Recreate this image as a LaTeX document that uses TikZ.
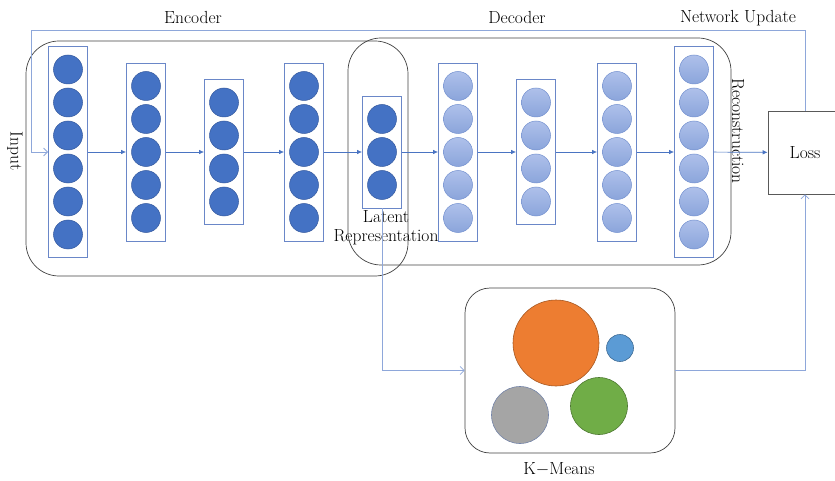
\documentclass[tikz,border=0pt]{standalone}
\usepackage{tikz}
\usetikzlibrary{arrows.meta, positioning}

\definecolor{encblue}{HTML}{4472C4}
\definecolor{encedge}{HTML}{34599E}
\definecolor{dectop}{HTML}{AEC0EA}
\definecolor{decbot}{HTML}{8BA5DB}
\definecolor{decedge}{HTML}{7390CF}
\definecolor{layerline}{HTML}{6A87C8}
\definecolor{arrowblue}{HTML}{4A74C2}
\definecolor{fbblue}{HTML}{8EA7DA}
\definecolor{kmorange}{HTML}{ED7D31}
\definecolor{kmblue}{HTML}{5B9BD5}
\definecolor{kmgray}{HTML}{A5A5A5}
\definecolor{kmgrayedge}{HTML}{7484A8}
\definecolor{kmgreen}{HTML}{70AD47}

\begin{document}
\begin{tikzpicture}[
  x=1pt, y=-1pt,
  lbl/.style={font=\fontsize{17.5}{19}\selectfont, inner sep=0pt},
  layer/.style={draw=layerline, line width=0.8pt, minimum width=39pt, inner sep=0pt},
  enc/.style={circle, fill=encblue, draw=encedge, line width=0.5pt,
              minimum size=29pt, inner sep=0pt},
  dec/.style={circle, top color=dectop, bottom color=decbot, draw=decedge,
              line width=0.5pt, minimum size=29pt, inner sep=0pt},
  group/.style={draw=black!75, line width=0.7pt, rounded corners=33pt},
  cluster/.style={circle, line width=0.6pt, inner sep=0pt},
  arr/.style={-{Latex[length=5pt,width=4.5pt]}, draw=arrowblue, line width=0.7pt},
  fb/.style={-{Straight Barb[length=4pt,width=8pt]}, draw=fbblue, line width=0.8pt},
]
\clip (0,0) rectangle (835,481);

% Layers of the autoencoder
\foreach \nm/\cx/\n/\st in {e1/68/6/enc, e2/146/5/enc, e3/224/4/enc, e4/304/5/enc,
    z/382/3/enc, d1/458/5/dec, d2/536/4/dec, d3/617/5/dec, d4/694/6/dec}{
  \node[layer, minimum height={33*\n+13}] (\nm) at (\cx,152) {};
  \foreach \k in {1,...,\n}
    \node[\st] (\nm-\k) at (\cx,{152+33*(\k-(\n+1)/2)}) {};
}

% Encoder / decoder outlines
\node[group, minimum width=382pt, minimum height=235pt] (encoder) at (217,158.5) {};
\node[group, minimum width=383pt, minimum height=227pt] (decoder) at (539.5,151.5) {};

% Labels
\node[lbl] (enclbl) at (193,18) {Encoder};
\node[lbl] (declbl) at (517,18) {Decoder};
\node[lbl] (updlbl) at (738,18) {Network Update};
\node[lbl, rotate=-90] (input) at (15,151) {Input};
\node[lbl, rotate=-90] (recon) at (738,131) {Reconstruction};
\node[lbl, align=center] (latent) at (386,228) {Latent\\Representation};

% Loss
\node[lbl, draw=black!65, line width=0.7pt, minimum width=74pt, minimum height=83pt]
  (loss) at (805,152.5) {Loss};

% K-Means
\node[draw=black!75, line width=0.7pt, rounded corners=25pt,
      minimum width=210pt, minimum height=165pt] (kmeans) at (570,370.5) {};
\node[cluster, fill=kmorange, draw=kmorange!70!black, minimum size=86pt] (c1) at (556,343) {};
\node[cluster, fill=kmblue, draw=kmblue!70!black, minimum size=27pt] (c2) at (620,348) {};
\node[cluster, fill=kmgray, draw=kmgrayedge, minimum size=57pt] (c3) at (520,415) {};
\node[cluster, fill=kmgreen, draw=kmgreen!70!black, minimum size=57pt] (c4) at (599,406) {};
\node[lbl] (kmlbl) at (559,469) {K$-$Means};

% Forward pass
\foreach \a/\b in {e1/e2, e2/e3, e3/e4, e4/z, z/d1, d1/d2, d2/d3, d3/d4}
  \draw[arr] (\a) -- (\b);
\draw[arr] (d4) -- (loss);

% Feedback and clustering paths
\coordinate (top) at (31,30);
\draw[fb] (loss.north) |- (top) |- (e1.west);
\draw[fb] (z.south) |- (kmeans.west);
\draw[fb] (kmeans.east) -| (loss.south);

\end{tikzpicture}
\end{document}
